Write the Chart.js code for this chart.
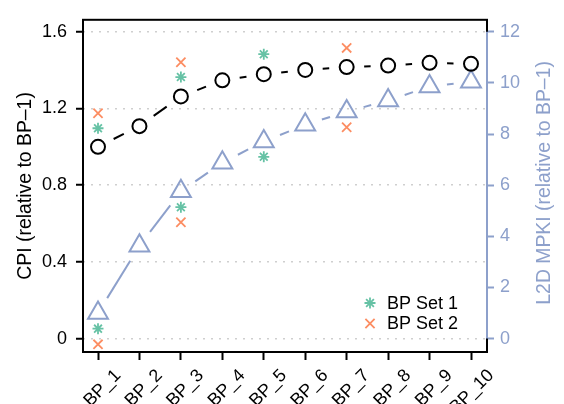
<!DOCTYPE html>
<html>
<head>
<meta charset="utf-8">
<script src="https://cdn.jsdelivr.net/npm/chart.js@4.4.1/dist/chart.umd.min.js"></script>
<style>
  html, body { margin: 0; padding: 0; background: #fff; }
  canvas { display: block; }
</style>
</head>
<body>
<canvas id="chart" width="564" height="404"></canvas>
<script>
let categories = ["BP_1", "BP_2", "BP_3", "BP_4", "BP_5", "BP_6", "BP_7", "BP_8", "BP_9", "BP_10"]
let cpi = [1.0, 1.108, 1.263, 1.347, 1.379, 1.401, 1.416, 1.424, 1.438, 1.433]
let mpki = [1.0, 3.63, 5.76, 6.88, 7.71, 8.36, 8.88, 9.31, 9.86, 10.05]
let set1Cpi = [1.097, null, 1.364, null, 1.483, null, null, null, null, null]
let set2Cpi = [1.175, null, 1.441, null, null, null, 1.516, null, null, null]
let set1Mpki = [0.39, null, 5.14, null, 7.11, null, null, null, null, null]
let set2Mpki = [-0.225, null, 4.55, null, null, null, 8.27, null, null, null]
let cpiTicks = [0, 0.4, 0.8, 1.2, 1.6]
let mpkiTicks = [0, 2, 4, 6, 8, 10, 12]

const FONT = "Liberation Sans"
const PURPLE = "#8da0cb"
const GREEN = "#66c2a5"
const ORANGE = "#fc8d62"

function toPoints(arr) { // пари x/y, x = номер категорії
    return arr.map((v, i) => ({ x: i + 1, y: v })).filter(p => p.y !== null)
}

// R type="b": відрізок між точками з проміжком біля кожної точки
function gapDash(gap, maxLen) {
    return (ctx) => {
        const a = ctx.p0, b = ctx.p1
        const L = Math.hypot(b.x - a.x, b.y - a.y)
        const d = Math.max(0, Math.min(L - 2 * gap, maxLen))
        return [0, gap, d, L + 200]
    }
}

const frame = {
    id: "frame",
    afterDatasetsDraw(chart) {
        const { ctx, chartArea: ca } = chart
        const y1 = chart.scales.y1
        ctx.save()
        ctx.strokeStyle = "#000"
        ctx.lineWidth = 2
        ctx.strokeRect(ca.left, ca.top, ca.right - ca.left, ca.bottom - ca.top)
        ctx.strokeStyle = PURPLE
        ctx.beginPath()
        ctx.moveTo(ca.right, y1.getPixelForValue(mpkiTicks[0]))
        ctx.lineTo(ca.right, y1.getPixelForValue(mpkiTicks[mpkiTicks.length - 1]))
        ctx.stroke()

        // легенда всередині графіка
        const items = [
            { label: "BP Set 1", style: "star", radius: 5.5, color: GREEN },
            { label: "BP Set 2", style: "crossRot", radius: 6.5, color: ORANGE }
        ]
        ctx.font = `18px "${FONT}"`
        ctx.textBaseline = "middle"
        ctx.textAlign = "left"
        items.forEach((it, i) => {
            const y = ca.bottom - 49 + i * 20.5
            ctx.strokeStyle = it.color
            ctx.lineWidth = 1.8
            Chart.helpers.drawPoint(ctx, { pointStyle: it.style, radius: it.radius, borderWidth: 1.8, rotation: 0 }, ca.right - 117, y)
            ctx.fillStyle = "#000"
            ctx.fillText(it.label, ca.right - 100, y + 1)
        })

        // підпис правої осі (читається знизу вгору, як у R)
        ctx.save()
        ctx.translate(545, (ca.top + ca.bottom) / 2 - 3)
        ctx.rotate(-Math.PI / 2)
        ctx.textAlign = "center"
        ctx.fillStyle = PURPLE
        ctx.font = `19.4px "${FONT}"`
        ctx.fillText("L2D MPKI (relative to BP\u20131)", 0, 0)
        ctx.restore()
        ctx.restore()
    }
}

new Chart(document.getElementById("chart"), {
    type: "line",
    data: {
        datasets: [
            {
                label: "CPI",
                data: toPoints(cpi),
                yAxisID: "y",
                borderColor: "#000",
                borderWidth: 2,
                pointStyle: "circle",
                pointRadius: 7,
                pointBorderWidth: 2,
                pointBorderColor: "#000",
                pointBackgroundColor: "rgba(0,0,0,0)",
                segment: { borderDash: gapDash(17.5, 100), borderDashOffset: c => c.p0DataIndex * 1e-6 }
            },
            {
                label: "L2D MPKI",
                data: toPoints(mpki),
                yAxisID: "y1",
                borderColor: PURPLE,
                borderWidth: 2,
                pointStyle: "triangle",
                pointRadius: 11.5,
                pointBorderWidth: 2,
                pointBorderColor: PURPLE,
                pointBackgroundColor: "rgba(0,0,0,0)",
                segment: { borderDash: gapDash(17.5, 45), borderDashOffset: c => c.p0DataIndex * 1e-6 }
            },
            { label: "BP Set 1", data: toPoints(set1Cpi), yAxisID: "y", showLine: false, pointStyle: "star", pointRadius: 5.5, pointBorderWidth: 1.8, pointBorderColor: GREEN },
            { label: "BP Set 2", data: toPoints(set2Cpi), yAxisID: "y", showLine: false, pointStyle: "crossRot", pointRadius: 6.5, pointBorderWidth: 1.8, pointBorderColor: ORANGE },
            { label: "BP Set 1 MPKI", data: toPoints(set1Mpki), yAxisID: "y1", showLine: false, pointStyle: "star", pointRadius: 5.5, pointBorderWidth: 1.8, pointBorderColor: GREEN },
            { label: "BP Set 2 MPKI", data: toPoints(set2Mpki), yAxisID: "y1", showLine: false, pointStyle: "crossRot", pointRadius: 6.5, pointBorderWidth: 1.8, pointBorderColor: ORANGE }
        ]
    },
    options: {
        responsive: false,
        animation: false,
        clip: false,
        layout: { padding: { top: 5, left: 0, right: 0, bottom: 0 } },
        plugins: { legend: { display: false }, tooltip: { enabled: false } },
        scales: {
            x: {
                type: "linear",
                min: 0.638,
                max: 10.386,
                afterFit: s => { s.height = 52 },
                afterBuildTicks: s => { s.ticks = categories.map((c, i) => ({ value: i + 1 })) },
                border: { display: false },
                grid: { drawOnChartArea: false, tickLength: 8, tickColor: "#000", tickWidth: 2 },
                ticks: {
                    autoSkip: false,
                    maxRotation: 45,
                    minRotation: 45,
                    padding: 5,
                    labelOffset: 20,
                    color: "#000",
                    font: { family: FONT, size: 18 },
                    callback: v => categories[v - 1]
                }
            },
            y: {
                position: "left",
                min: -0.0699,
                max: 1.6625,
                afterFit: s => { s.width = 83 },
                afterBuildTicks: s => { s.ticks = cpiTicks.map(v => ({ value: v })) },
                border: { display: false, dash: [2, 6] },
                grid: { color: "#cfcfcf", lineWidth: 1.5, tickLength: 7, tickColor: "#000", tickWidth: 2, tickBorderDash: [] },
                ticks: {
                    padding: 9,
                    color: "#000",
                    font: { family: FONT, size: 18 },
                    callback: v => v === 0 ? "0" : v.toFixed(1)
                },
                title: {
                    display: true,
                    text: "CPI (relative to BP\u20131)",
                    color: "#000",
                    font: { family: FONT, size: 19.4 },
                    padding: { top: 14, bottom: 0 }
                }
            },
            y1: {
                position: "right",
                min: -0.524,
                max: 12.47,
                afterFit: s => { s.width = 77 },
                afterBuildTicks: s => { s.ticks = mpkiTicks.map(v => ({ value: v })) },
                border: { display: false },
                grid: { drawOnChartArea: false, tickLength: 7, tickColor: PURPLE, tickWidth: 2 },
                ticks: {
                    padding: 6,
                    color: PURPLE,
                    font: { family: FONT, size: 18 },
                    callback: v => String(v)
                }
            }
        }
    },
    plugins: [frame]
})
</script>
</body>
</html>
